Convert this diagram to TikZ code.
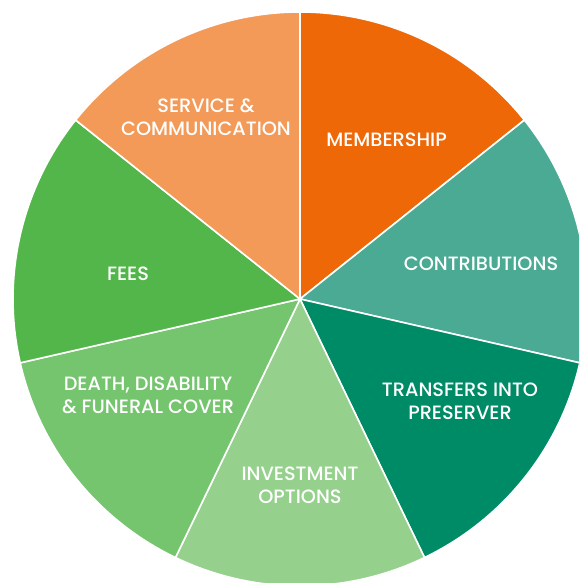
\documentclass[tikz,border=0pt]{standalone}
\usepackage{fontspec}
\setmainfont{Poppins}
\newfontfamily\lblfont{Poppins Medium}
\definecolor{cMem}{HTML}{EE6808}
\definecolor{cCon}{HTML}{4BAA94}
\definecolor{cTra}{HTML}{008B67}
\definecolor{cInv}{HTML}{95D18C}
\definecolor{cDea}{HTML}{75C46E}
\definecolor{cFee}{HTML}{53B64A}
\definecolor{cSer}{HTML}{F39A58}
\tikzset{
  sector/.style={draw=white,line width=1.6pt,line join=round},
  lbl/.style={text=white,align=center,font=\lblfont\fontsize{19.3}{23}\selectfont,inner sep=0pt}
}
\begin{document}
\begin{tikzpicture}[x=1pt,y=1pt]
\useasboundingbox (0,0) rectangle (579,583);
\clip (0,0) rectangle (579,583);
\coordinate (c) at (300,284);
\def\R{287}
\foreach \a/\col in {90/cMem,38.5714/cCon,-12.8571/cTra,-64.2857/cInv,-115.7143/cDea,-167.1429/cFee,-218.5714/cSer}{
  \fill[\col,sector] (c) -- ++(\a:\R) arc[start angle=\a,delta angle=-51.4286,radius=\R] -- cycle;
}
\node[lbl] (ser) at (206,466) {SERVICE \&\\COMMUNICATION};
\node[lbl] (mem) at (386.5,443) {MEMBERSHIP};
\node[lbl] (con) at (481,319) {CONTRIBUTIONS};
\node[lbl] (tra) at (460,182) {TRANSFERS INTO\\PRESERVER};
\node[lbl] (inv) at (300,97.5) {INVESTMENT\\OPTIONS};
\node[lbl] (dea) at (148,188) {DEATH, DISABILITY\\\& FUNERAL COVER};
\node[lbl] (fee) at (128,309.5) {FEES};
\end{tikzpicture}
\end{document}
